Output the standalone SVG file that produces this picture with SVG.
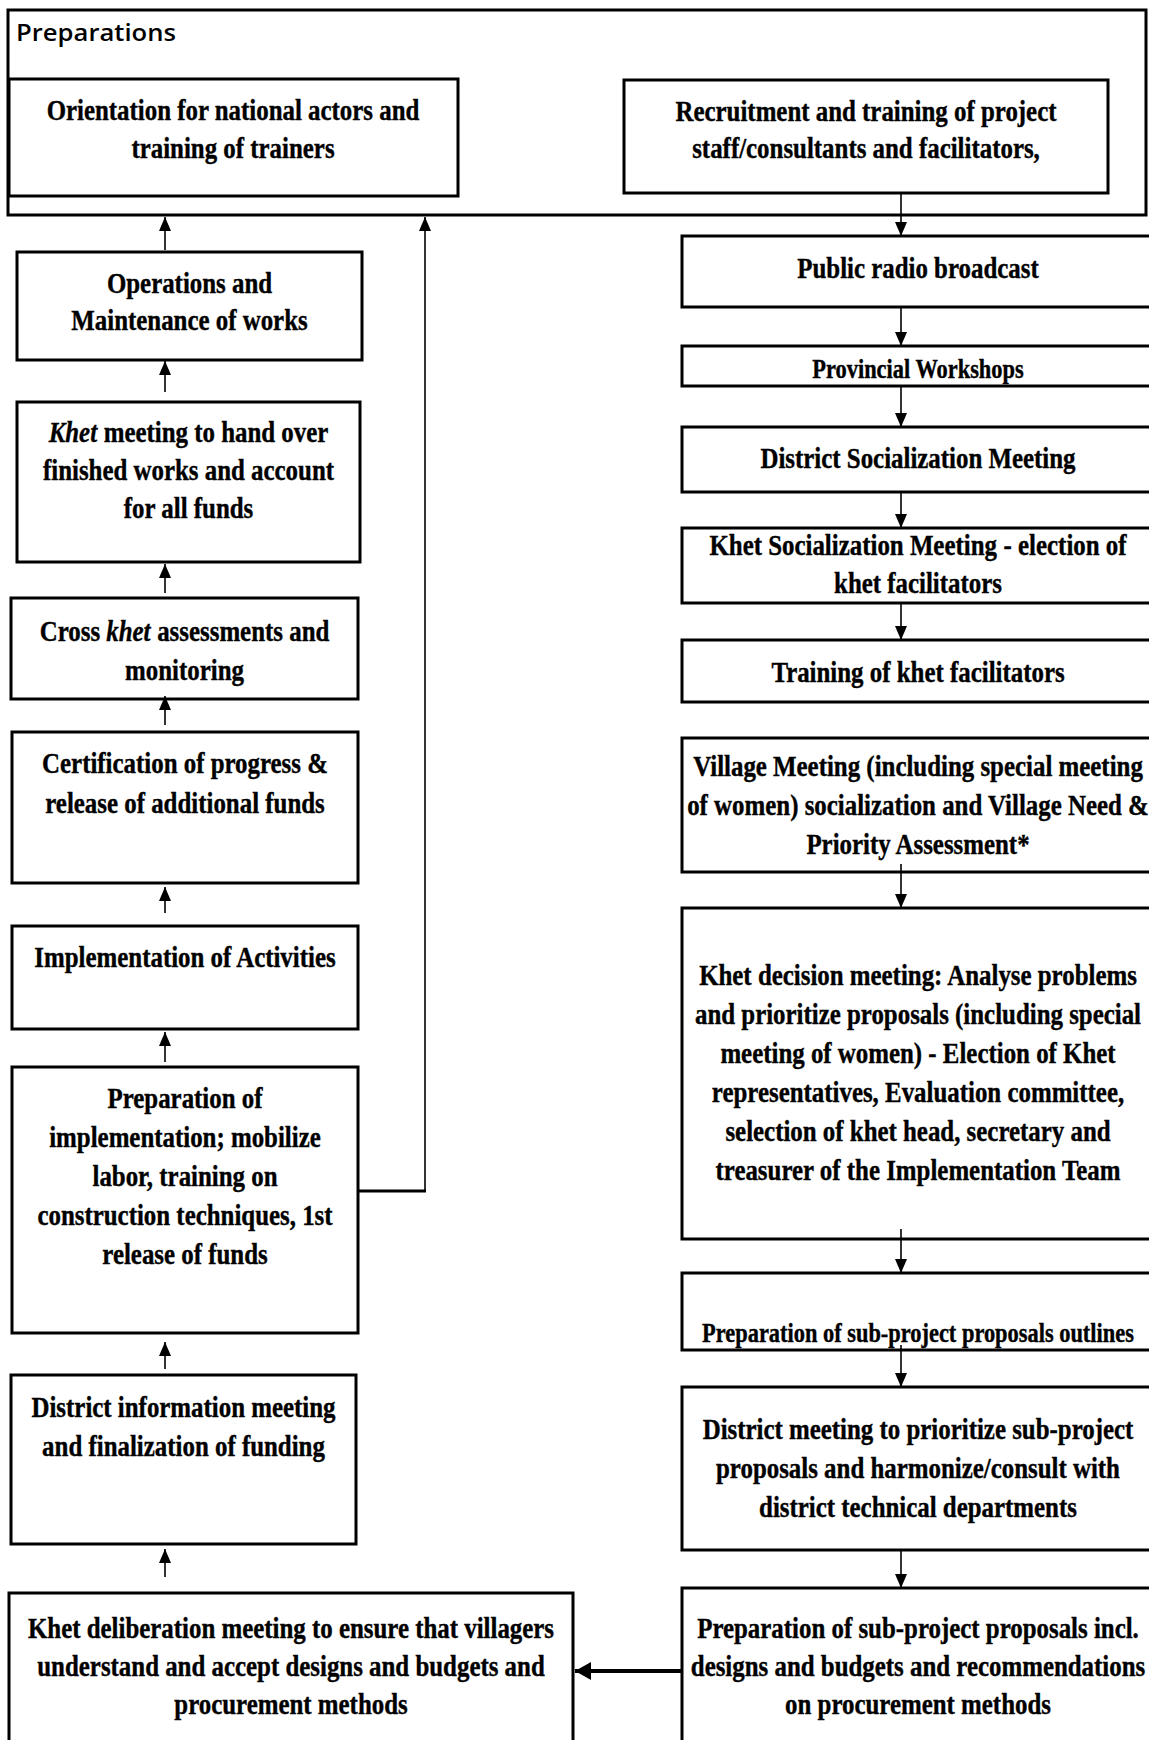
<svg xmlns="http://www.w3.org/2000/svg" width="1149" height="1740" viewBox="0 0 1149 1740">
<style>
.box{fill:#fff;stroke:#000;stroke-width:3}
.frame{fill:#fff;stroke:#000;stroke-width:3}
.t{font-family:"Liberation Serif","Times New Roman",serif;font-weight:bold;font-size:30px;text-anchor:middle;fill:#000;stroke:#000;stroke-width:0.4}
.ts{font-size:27px}
.lbl{font-family:"Open Sans","DejaVu Sans",sans-serif;font-weight:600;font-size:23px;fill:#000}
.c{fill:none;stroke:#000;stroke-width:1.6}
.ct{fill:none;stroke:#000;stroke-width:3}
.cb{fill:none;stroke:#000;stroke-width:4}
</style>
<defs>
<marker id="ah" markerUnits="userSpaceOnUse" markerWidth="14" markerHeight="12" refX="14" refY="6" orient="auto">
<path d="M0,0 L14,6 L0,12 z" fill="#000"/>
</marker>
<marker id="ahb" markerUnits="userSpaceOnUse" markerWidth="16" markerHeight="18" refX="16" refY="9" orient="auto">
<path d="M0,0 L16,9 L0,18 z" fill="#000"/>
</marker>
</defs>
<rect width="1149" height="1740" fill="#fff"/>

<g id="preparations">
<rect class="frame" x="8" y="10" width="1138" height="205"/>
<text class="lbl" x="16" y="41" textLength="160" lengthAdjust="spacingAndGlyphs">Preparations</text>
</g>

<g id="orientation">
<rect class="box" x="9" y="79" width="449" height="117"/>
<text class="t" transform="translate(233 0) scale(0.83 1)"><tspan x="0" y="120">Orientation for national actors and</tspan><tspan x="0" y="158">training of trainers</tspan></text>
</g>

<g id="recruitment">
<rect class="box" x="624" y="80" width="484" height="113"/>
<text class="t" transform="translate(866 0) scale(0.83 1)"><tspan x="0" y="121">Recruitment and training of project</tspan><tspan x="0" y="158">staff/consultants and facilitators,</tspan></text>
</g>

<g id="radio">
<rect class="box" x="682" y="236" width="472" height="71"/>
<text class="t" transform="translate(918 0) scale(0.83 1)"><tspan x="0" y="278">Public radio broadcast</tspan></text>
</g>

<g id="provincial">
<rect class="box" x="682" y="346" width="472" height="40"/>
<text class="t ts" transform="translate(918 0) scale(0.83 1)"><tspan x="0" y="378">Provincial Workshops</tspan></text>
</g>

<g id="district-socialization">
<rect class="box" x="682" y="427" width="472" height="65"/>
<text class="t" transform="translate(918 0) scale(0.83 1)"><tspan x="0" y="468">District Socialization Meeting</tspan></text>
</g>

<g id="khet-socialization">
<rect class="box" x="682" y="528" width="472" height="75"/>
<text class="t" transform="translate(918 0) scale(0.83 1)"><tspan x="0" y="555">Khet Socialization Meeting<tspan dx="8">- election of</tspan></tspan><tspan x="0" y="593">khet facilitators</tspan></text>
</g>

<g id="training-facilitators">
<rect class="box" x="682" y="640" width="472" height="62"/>
<text class="t" transform="translate(918 0) scale(0.83 1)"><tspan x="0" y="682">Training of khet facilitators</tspan></text>
</g>

<g id="village-meeting">
<rect class="box" x="682" y="738" width="472" height="134"/>
<text class="t" transform="translate(918 0) scale(0.83 1)"><tspan x="0" y="776">Village Meeting (including special meeting</tspan><tspan x="0" y="815">of women) socialization and Village Need &amp;</tspan><tspan x="0" y="854">Priority Assessment*</tspan></text>
</g>

<g id="khet-decision">
<rect class="box" x="682" y="908" width="472" height="331"/>
<text class="t" transform="translate(918 0) scale(0.83 1)"><tspan x="0" y="985">Khet decision meeting: Analyse problems</tspan><tspan x="0" y="1024">and prioritize proposals (including special</tspan><tspan x="0" y="1063">meeting of women) - Election of Khet</tspan><tspan x="0" y="1102">representatives, Evaluation committee,</tspan><tspan x="0" y="1141">selection of khet head, secretary and</tspan><tspan x="0" y="1180">treasurer of the Implementation Team</tspan></text>
</g>

<g id="proposal-outlines">
<rect class="box" x="682" y="1273" width="472" height="77"/>
<text class="t ts" transform="translate(918 0) scale(0.83 1)"><tspan x="0" y="1342">Preparation of sub-project proposals outlines</tspan></text>
</g>

<g id="district-meeting">
<rect class="box" x="682" y="1387" width="472" height="163"/>
<text class="t" transform="translate(918 0) scale(0.83 1)"><tspan x="0" y="1439">District meeting to prioritize sub-project</tspan><tspan x="0" y="1478">proposals and harmonize/consult with</tspan><tspan x="0" y="1517">district technical departments</tspan></text>
</g>

<g id="proposals-incl">
<rect class="box" x="682" y="1588" width="472" height="172"/>
<text class="t" transform="translate(918 0) scale(0.83 1)"><tspan x="0" y="1638">Preparation of sub-project proposals incl.</tspan><tspan x="0" y="1676">designs and budgets and recommendations</tspan><tspan x="0" y="1714">on procurement methods</tspan></text>
</g>

<g id="khet-deliberation">
<rect class="box" x="9" y="1593" width="564" height="167"/>
<text class="t" transform="translate(291 0) scale(0.83 1)"><tspan x="0" y="1638">Khet deliberation meeting to ensure that villagers</tspan><tspan x="0" y="1676">understand and accept designs and budgets and</tspan><tspan x="0" y="1714">procurement methods</tspan></text>
</g>

<g id="district-information">
<rect class="box" x="11" y="1375" width="345" height="169"/>
<text class="t" transform="translate(183.5 0) scale(0.83 1)"><tspan x="0" y="1417">District information meeting</tspan><tspan x="0" y="1456">and finalization of funding</tspan></text>
</g>

<g id="preparation-implementation">
<rect class="box" x="12" y="1067" width="346" height="266"/>
<text class="t" transform="translate(185 0) scale(0.83 1)"><tspan x="0" y="1108">Preparation of</tspan><tspan x="0" y="1147">implementation; mobilize</tspan><tspan x="0" y="1186">labor, training on</tspan><tspan x="0" y="1225">construction techniques, 1st</tspan><tspan x="0" y="1264">release of funds</tspan></text>
</g>

<g id="implementation">
<rect class="box" x="12" y="926" width="346" height="103"/>
<text class="t" transform="translate(185 0) scale(0.83 1)"><tspan x="0" y="967">Implementation of Activities</tspan></text>
</g>

<g id="certification">
<rect class="box" x="12" y="732" width="346" height="151"/>
<text class="t" transform="translate(185 0) scale(0.83 1)"><tspan x="0" y="773">Certification of progress &amp;</tspan><tspan x="0" y="813">release of additional funds</tspan></text>
</g>

<g id="cross-khet">
<rect class="box" x="11" y="598" width="347" height="101"/>
<text class="t" transform="translate(184.5 0) scale(0.83 1)"><tspan x="0" y="641">Cross <tspan font-style="italic">khet</tspan><tspan dx="8">assessments and</tspan></tspan><tspan x="0" y="680">monitoring</tspan></text>
</g>

<g id="khet-handover">
<rect class="box" x="17" y="402" width="343" height="160"/>
<text class="t" transform="translate(188.5 0) scale(0.83 1)"><tspan x="0" y="442"><tspan font-style="italic">Khet</tspan><tspan dx="8">meeting to hand over</tspan></tspan><tspan x="0" y="480">finished works and account</tspan><tspan x="0" y="518">for all funds</tspan></text>
</g>

<g id="operations">
<rect class="box" x="17" y="252" width="345" height="108"/>
<text class="t" transform="translate(189.5 0) scale(0.83 1)"><tspan x="0" y="293">Operations and</tspan><tspan x="0" y="330">Maintenance of works</tspan></text>
</g>

<g id="connectors">
<line class="c" x1="165" y1="250" x2="165" y2="217" marker-end="url(#ah)"/>
<line class="c" x1="165" y1="392" x2="165" y2="361" marker-end="url(#ah)"/>
<line class="c" x1="165" y1="593" x2="165" y2="564" marker-end="url(#ah)"/>
<line class="c" x1="165" y1="725" x2="165" y2="696" marker-end="url(#ah)"/>
<line class="c" x1="165" y1="913" x2="165" y2="887" marker-end="url(#ah)"/>
<line class="c" x1="165" y1="1062" x2="165" y2="1032" marker-end="url(#ah)"/>
<line class="c" x1="165" y1="1369" x2="165" y2="1342" marker-end="url(#ah)"/>
<line class="c" x1="165" y1="1577" x2="165" y2="1549" marker-end="url(#ah)"/>
<line class="ct" x1="358" y1="1191" x2="426" y2="1191"/>
<line class="c" x1="425" y1="1192" x2="425" y2="217" marker-end="url(#ah)"/>
<line class="c" x1="901" y1="193" x2="901" y2="236" marker-end="url(#ah)"/>
<line class="c" x1="901" y1="307" x2="901" y2="346" marker-end="url(#ah)"/>
<line class="c" x1="901" y1="386" x2="901" y2="427" marker-end="url(#ah)"/>
<line class="c" x1="901" y1="492" x2="901" y2="528" marker-end="url(#ah)"/>
<line class="c" x1="901" y1="603" x2="901" y2="640" marker-end="url(#ah)"/>
<line class="c" x1="901" y1="864" x2="901" y2="908" marker-end="url(#ah)"/>
<line class="c" x1="901" y1="1229" x2="901" y2="1273" marker-end="url(#ah)"/>
<line class="c" x1="901" y1="1345" x2="901" y2="1387" marker-end="url(#ah)"/>
<line class="c" x1="901" y1="1550" x2="901" y2="1588" marker-end="url(#ah)"/>
<line class="cb" x1="682" y1="1671" x2="575" y2="1671" marker-end="url(#ahb)"/>
</g>
</svg>
